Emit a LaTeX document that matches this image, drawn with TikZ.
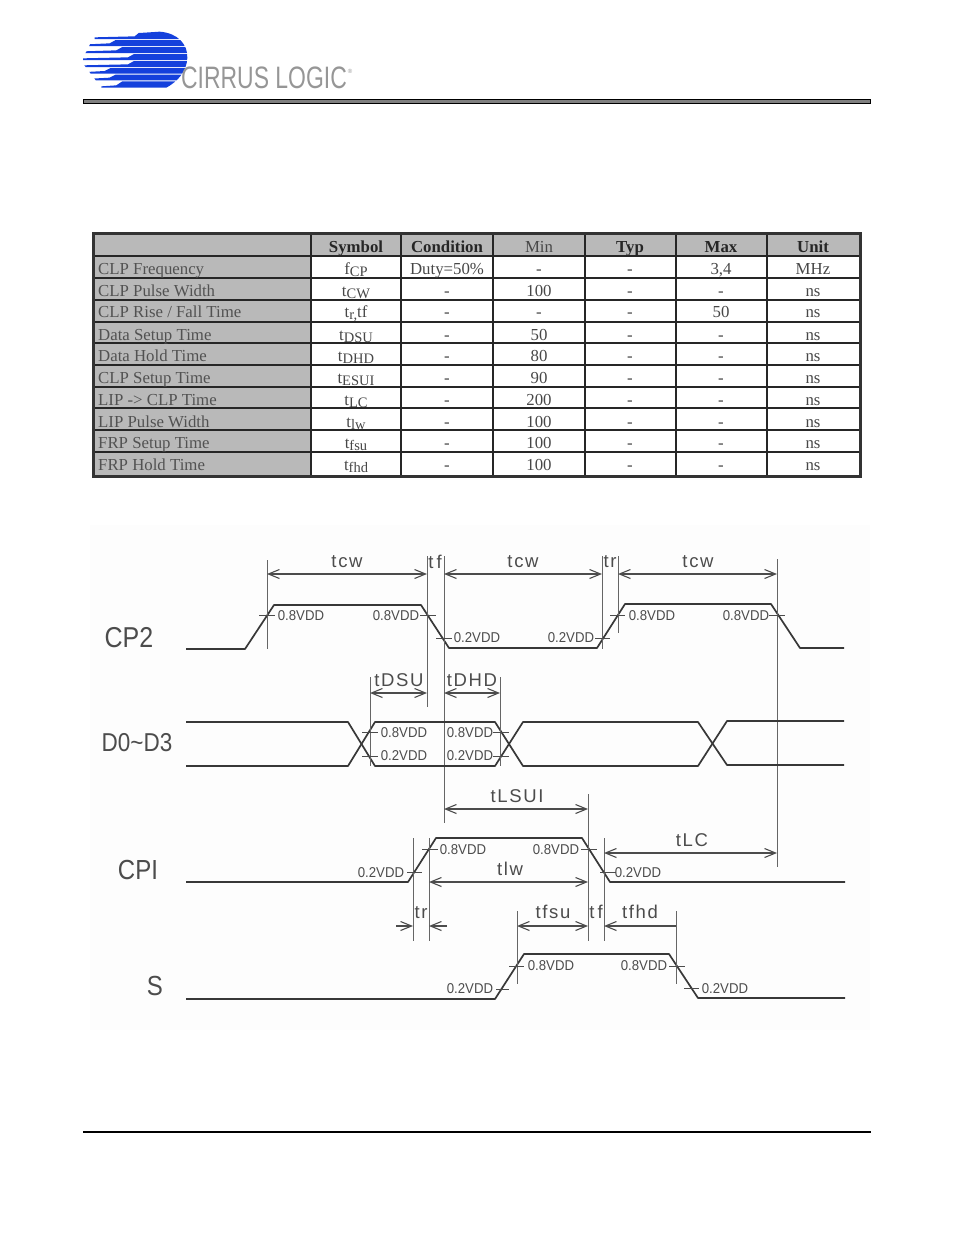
\documentclass[tikz,border=0pt]{standalone}
\usepackage{fontspec}
\usetikzlibrary{arrows.meta}
\setmainfont{Liberation Serif}
\newfontfamily\wavefont{Liberation Sans}
\newfontfamily\dimfont[LetterSpace=9]{Liberation Sans}
\newcommand{\tsub}[1]{\raisebox{-2.5pt}{\fontsize{14.5}{15}\selectfont #1}}
\definecolor{cirrusblue}{HTML}{1440DC}
\definecolor{cirrusgray}{HTML}{969696}
\definecolor{cellgray}{HTML}{B9B9B9}
\tikzset{
	cell/.style = {anchor=base, inner sep=0, text=black!72, font=\fontsize{16.8}{17}\selectfont},
	headcell/.style = {cell, text=black!85, font=\bfseries\fontsize{16.8}{17}\selectfont},
	rowname/.style = {cell, anchor=base west, text=black!68},
	grid/.style = {draw=black!85, line width=1.6pt},
	wave/.style = {draw=black!78, line width=1.7pt, line join=round},
	witness/.style = {draw=black!60, line width=.9pt},
	tick/.style = {draw=black!70, line width=1pt},
	dim/.style = {draw=black!70, line width=1.1pt, >={Straight Barb[length=11pt,width=9pt]}},
	vdd/.style = {inner sep=0, yscale=1.08, text=black!70, font=\wavefont\fontsize{13.2}{14}\selectfont},
	dimtext/.style = {inner sep=0, text=black!70, font=\dimfont\fontsize{18.5}{19}\selectfont},
	signame/.style = {inner sep=0, yscale=1.15, text=black!70, font=\wavefont\fontsize{25}{26}\selectfont}
}

\begin{document}
\begin{tikzpicture}[x=1pt, y=-1pt]
	\useasboundingbox (0,0) rectangle (954,1235);
	\fill [black!.6] (90,525) rectangle (870,1030);
	% logo
	\begin{scope}[shift={(78,28)}, x=.3333pt, y=-.3333pt]
		\clip (50,22) -- (200,14) -- (245,11) .. controls (300,15) and (330,50) .. (328,90) .. controls (326,130) and (300,160) .. (265,179) -- (70,179) -- (10,100) -- cycle;
		\foreach \ytop/\ybot/\xtail/\xbody in {10/33/50/170, 36/54/30/95, 57/75/20/115, 78/96/15/150, 99/117/15/150, 120/137/25/80, 140/157/40/95, 160/180/70/115}
			\fill [cirrusblue] (\xtail,\ybot) -- (\xtail,\ybot-5) -- (\xbody,\ybot-8) -- (\xbody+18,\ytop) -- (340,\ytop) -- (340,\ybot) -- cycle;
	\end{scope}
	\node [inner sep=0, text=cirrusgray, xscale=.74, font=\wavefont\fontsize{31}{32}\selectfont] (logotext) at (264,78) {CIRRUS LOGIC};
	\node [inner sep=0, text=cirrusgray, font=\wavefont\fontsize{6}{7}\selectfont] (logomark) at (350,71) {\textregistered};
	\fill [black!50, draw=black, line width=1pt] (83.5,99) rectangle (870.5,103);
	\draw [black, line width=1.2pt] (83,1132) -- (871,1132);

	% table
	\fill [cellgray] (93,233) rectangle (311,476);
	\fill [cellgray] (311,233) rectangle (860,256);
	\foreach \x in {311,401,493,585,676,767}
		\draw [grid] (\x,233) -- (\x,476);
	\foreach \y in {278,300,343,365,387,430,452}
		\draw [grid, line width=1.1pt] (93,\y) -- (860,\y);
	\foreach \y in {256,322,408}
		\draw [grid, line width=1.7pt] (93,\y) -- (860,\y);
	\draw [draw=black!80, line width=3pt] (93,233) rectangle (860,476);
	\node [headcell] (hsym) at (356,252) {Symbol};
	\node [headcell] (hcond) at (447,252) {Condition};
	\node [cell] (hmin) at (539,252) {Min};
	\node [headcell] (htyp) at (630,252) {Typ};
	\node [headcell] (hmax) at (721,252) {Max};
	\node [headcell] (hunit) at (813,252) {Unit};
	\foreach \y/\rname/\sym/\cond/\mn/\mx/\unit [count=\r] in {
		274/CLP Frequency/f\tsub{CP}/Duty=50\%/-/{3,4}/MHz,
		296/CLP Pulse Width/t\tsub{CW}/-/100/-/ns,
		317/{CLP Rise / Fall Time}/{t\tsub{r,}tf}/-/-/50/ns,
		340/Data Setup Time/t\tsub{DSU}/-/50/-/ns,
		361/Data Hold Time/t\tsub{DHD}/-/80/-/ns,
		383/CLP Setup Time/t\tsub{ESUI}/-/90/-/ns,
		405/LIP -> CLP Time/t\tsub{LC}/-/200/-/ns,
		427/LIP Pulse Width/t\tsub{lw}/-/100/-/ns,
		448/FRP Setup Time/t\tsub{fsu}/-/100/-/ns,
		470/FRP Hold Time/t\tsub{fhd}/-/100/-/ns}
	{
		\node [rowname] (name\r) at (98,\y) {\rname};
		\node [cell] (sym\r) at (356,\y) {\sym};
		\node [cell] (cond\r) at (447,\y) {\cond};
		\node [cell] (min\r) at (539,\y) {\mn};
		\node [cell] (typ\r) at (630,\y) {-};
		\node [cell] (max\r) at (721,\y) {\mx};
		\node [cell] (unit\r) at (813,\y) {\unit};
	}

	% CP2
	\node [signame] (cptwo) at (129,638) {CP2};
	\draw [wave] (186,649) -- (245,649) -- (274,605) -- (421,605) -- (449,648) -- (597,648) -- (625,604) -- (771,604) -- (800,648) -- (844,648);
	\draw [witness] (267,560) -- (267,649);
	\draw [witness] (427,556) -- (427,707);
	\draw [witness] (444,556) -- (444,823);
	\draw [witness] (602,556) -- (602,649);
	\draw [witness] (618,556) -- (618,633);
	\draw [witness] (777,559) -- (777,867);
	\draw [tick] (259,615) -- (275,615);
	\draw [tick] (420,615) -- (436,615);
	\draw [tick] (436,638) -- (452,638);
	\draw [tick] (595,638) -- (610,638);
	\draw [tick] (610,615) -- (625,615);
	\draw [tick] (769,615) -- (785,615);
	\node [vdd] (cptwoa) at (301,616) {0.8VDD};
	\node [vdd] (cptwob) at (396,616) {0.8VDD};
	\node [vdd] (cptwoc) at (477,638) {0.2VDD};
	\node [vdd] (cptwod) at (571,638) {0.2VDD};
	\node [vdd] (cptwoe) at (652,616) {0.8VDD};
	\node [vdd] (cptwof) at (746,616) {0.8VDD};
	\draw [dim, <->] (267,574) -- (427,574);
	\draw [dim, <->] (444,574) -- (602,574);
	\draw [dim, <->] (618,574) -- (777,574);
	\node [dimtext] (tcwa) at (347,562) {tcw};
	\node [dimtext] (tfa) at (435,562) {t\,f};
	\node [dimtext] (tcwb) at (523,562) {tcw};
	\node [dimtext] (tra) at (610,562) {tr};
	\node [dimtext] (tcwc) at (698,562) {tcw};

	% D0~D3
	\node [signame, font=\wavefont\fontsize{22.5}{24}\selectfont] (dzero) at (137,743) {D0\textasciitilde D3};
	\draw [wave] (186,722) -- (348,722) -- (375,766) -- (495,766) -- (523,722) -- (698,722) -- (727,765) -- (844,765);
	\draw [wave] (186,766) -- (348,766) -- (375,722) -- (495,722) -- (523,766) -- (698,766) -- (727,721) -- (844,721);
	\draw [witness] (370,677) -- (370,766);
	\draw [witness] (500,677) -- (500,766);
	\draw [tick] (362,732) -- (378,732);
	\draw [tick] (362,756) -- (378,756);
	\draw [tick] (493,732) -- (509,732);
	\draw [tick] (493,756) -- (509,756);
	\node [vdd] (dzeroa) at (404,733) {0.8VDD};
	\node [vdd] (dzerob) at (404,756) {0.2VDD};
	\node [vdd] (dzeroc) at (470,733) {0.8VDD};
	\node [vdd] (dzerod) at (470,756) {0.2VDD};
	\draw [dim, <->] (370,693) -- (427,693);
	\draw [dim, <->] (444,693) -- (500,693);
	\node [dimtext] (tdsu) at (399,680) {tDSU};
	\node [dimtext] (tdhd) at (472,680) {tDHD};

	% CPI
	\node [signame, font=\wavefont\fontsize{24}{25}\selectfont] (cpi) at (138,870) {CPI};
	\draw [wave] (186,882) -- (408,882) -- (436,838) -- (582,838) -- (610,882) -- (845,882);
	\draw [witness] (413,838) -- (413,941);
	\draw [witness] (429,838) -- (429,941);
	\draw [witness] (588,794) -- (588,941);
	\draw [witness] (604,838) -- (604,941);
	\draw [tick] (407,872) -- (422,872);
	\draw [tick] (422,849) -- (438,849);
	\draw [tick] (581,849) -- (597,849);
	\draw [tick] (600,872) -- (616,872);
	\node [vdd] (cpia) at (381,873) {0.2VDD};
	\node [vdd] (cpib) at (463,850) {0.8VDD};
	\node [vdd] (cpic) at (556,850) {0.8VDD};
	\node [vdd] (cpid) at (638,873) {0.2VDD};
	\draw [dim, <->] (444,809) -- (588,809);
	\draw [dim, <->] (429,882) -- (588,882);
	\draw [dim, <->] (604,853) -- (777,853);
	\draw [dim, ->] (396,926) -- (413,926);
	\draw [dim, ->] (447,926) -- (429,926);
	\draw [dim, <->] (517,926) -- (588,926);
	\draw [dim, <-] (604,926) -- (676,926);
	\node [dimtext] (tlsui) at (517,796) {tLSUI};
	\node [dimtext] (tlw) at (510,869) {tlw};
	\node [dimtext] (tlc) at (692,840) {tLC};
	\node [dimtext] (trb) at (421,913) {tr};
	\node [dimtext] (tfsu) at (553,912) {tfsu};
	\node [dimtext] (tfb) at (596,912) {t\,f};
	\node [dimtext] (tfhd) at (640,912) {tfhd};

	% S
	\node [signame, font=\wavefont\fontsize{24}{25}\selectfont] (ess) at (155,986) {S};
	\draw [wave] (186,999) -- (495,999) -- (524,954) -- (669,954) -- (698,998) -- (845,998);
	\draw [witness] (517,911) -- (517,984);
	\draw [witness] (676,911) -- (676,984);
	\draw [tick] (496,989) -- (509,989);
	\draw [tick] (509,966) -- (524,966);
	\draw [tick] (669,966) -- (685,966);
	\draw [tick] (684,988) -- (699,988);
	\node [vdd] (essa) at (470,989) {0.2VDD};
	\node [vdd] (essb) at (551,966) {0.8VDD};
	\node [vdd] (essc) at (644,966) {0.8VDD};
	\node [vdd] (essd) at (725,989) {0.2VDD};
\end{tikzpicture}
\end{document}
